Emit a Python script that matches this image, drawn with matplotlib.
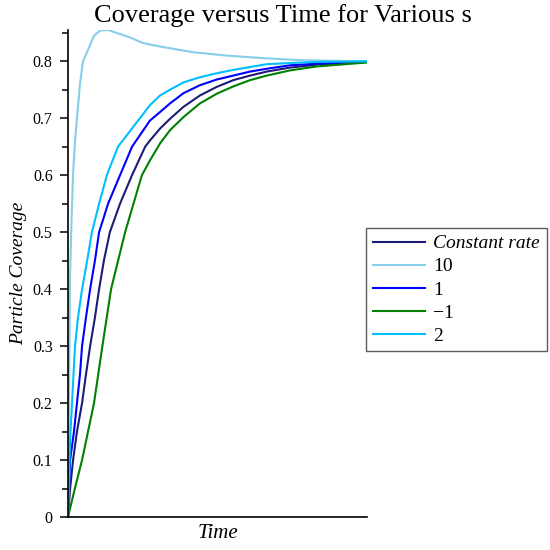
#!/usr/bin/env python3
# coding: utf-8

import numpy as np
import matplotlib.pyplot as plt
from matplotlib.ticker import MultipleLocator

# values (time in arbitrary units, axis spans 0-10)
t_const = [0, 0.07, 0.17, 0.30, 0.47, 0.60, 0.74, 0.90, 1.04, 1.20, 1.40, 1.74, 2.14,
           2.58, 2.74, 3.08, 3.41, 3.86, 4.41, 4.97, 5.53, 6.09, 6.65, 7.42, 8.32, 10.0]
c_const = [0, 0.05, 0.10, 0.15, 0.20, 0.25, 0.30, 0.35, 0.40, 0.45, 0.50, 0.55, 0.60,
           0.65, 0.661, 0.682, 0.699, 0.720, 0.740, 0.755, 0.767, 0.775, 0.782, 0.789,
           0.794, 0.799]

t_s10 = [0, 0.017, 0.033, 0.05, 0.067, 0.117, 0.167, 0.234, 0.30, 0.40, 0.50, 0.67,
         0.87, 1.07, 1.34, 2.07, 2.51, 3.08, 4.18, 5.32, 6.42, 7.76, 10.0]
c_s10 = [0, 0.10, 0.20, 0.30, 0.42, 0.52, 0.60, 0.66, 0.70, 0.76, 0.80, 0.82,
         0.845, 0.854, 0.855, 0.842, 0.832, 0.826, 0.816, 0.810, 0.806, 0.802, 0.80]

t_s1 = [0, 0.03, 0.07, 0.20, 0.30, 0.40, 0.47, 0.60, 0.74, 0.90, 1.04, 1.34, 1.74,
        2.14, 2.74, 3.08, 3.41, 3.86, 4.41, 4.97, 5.53, 6.09, 6.65, 7.42, 8.32, 10.0]
c_s1 = [0, 0.05, 0.10, 0.15, 0.20, 0.25, 0.30, 0.35, 0.40, 0.45, 0.50, 0.55, 0.60,
        0.65, 0.696, 0.711, 0.726, 0.744, 0.758, 0.768, 0.775, 0.782, 0.787, 0.793,
        0.796, 0.799]

t_sm1 = [0, 0.23, 0.47, 0.87, 1.15, 1.44, 1.91, 2.47, 2.74, 3.08, 3.41, 3.86, 4.41,
         4.97, 5.53, 6.09, 6.65, 7.42, 8.32, 10.0]
c_sm1 = [0, 0.05, 0.10, 0.20, 0.30, 0.40, 0.50, 0.60, 0.626, 0.656, 0.679, 0.702,
         0.726, 0.743, 0.756, 0.767, 0.775, 0.784, 0.791, 0.798]

t_s2 = [0, 0.03, 0.05, 0.084, 0.134, 0.184, 0.234, 0.334, 0.47, 0.64, 0.80, 1.04,
        1.30, 1.67, 2.74, 3.08, 3.41, 3.86, 4.41, 4.97, 5.53, 6.09, 6.65, 7.42, 8.32, 10.0]
c_s2 = [0, 0.05, 0.10, 0.15, 0.20, 0.25, 0.30, 0.35, 0.40, 0.45, 0.50, 0.55, 0.60,
        0.65, 0.723, 0.740, 0.750, 0.763, 0.772, 0.779, 0.785, 0.790, 0.795, 0.797,
        0.799, 0.800]

series = [
    ("Constant rate", t_const, c_const, "#1c1c78"),
    ("10", t_s10, c_s10, "#87ceeb"),
    ("1", t_s1, c_s1, "#0000ff"),
    ("\u22121", t_sm1, c_sm1, "#008000"),
    ("2", t_s2, c_s2, "#00bfff"),
]

plt.rcParams['font.family'] = ['Liberation Serif', 'DejaVu Serif']

fig = plt.figure(figsize=(5.5, 5.5), dpi=100)
ax = fig.add_axes([68 / 550, 1 - 517 / 550, (367 - 68) / 550, (517 - 30) / 550])

lines = []
for label, t, c, color in series:
    ln, = ax.plot(t, c, "-", color=color, lw=1.5, label=label)
    lines.append(ln)

ax.set_xlim(0, 10)
ax.set_ylim(0, 0.855)
ax.spines['right'].set_visible(False)
ax.spines['top'].set_visible(False)
ax.spines['left'].set_linewidth(1.2)
ax.spines['bottom'].set_linewidth(1.2)
ax.set_xticks([])
ax.yaxis.set_minor_locator(MultipleLocator(0.05))
ax.set_yticks([0, 0.1, 0.2, 0.3, 0.4, 0.5, 0.6, 0.7, 0.8])
ax.set_yticklabels(["0", "0.1", "0.2", "0.3", "0.4", "0.5", "0.6", "0.7", "0.8"])
ax.tick_params(axis='y', which='major', length=6, width=1.1, labelsize=11.5, pad=5)
ax.tick_params(axis='y', which='minor', length=4, width=1.1)

fig.suptitle("Coverage versus Time for Various s", fontsize=19, x=283 / 550, y=0.993, va='top')
ax.set_xlabel("Time", fontstyle='italic', fontsize=15, labelpad=5)
ax.set_ylabel("Particle Coverage", fontstyle='italic', fontsize=14, labelpad=4)

leg = fig.legend(handles=lines, loc='upper left', bbox_to_anchor=(366 / 550, 1 - 228 / 550),
                 fontsize=14, handlelength=2.7, frameon=True, fancybox=False,
                 borderpad=0.35, labelspacing=0.28, handletextpad=0.4, borderaxespad=0)
leg.get_frame().set_edgecolor("#333333")
leg.get_frame().set_linewidth(1.0)
leg.get_texts()[0].set_fontstyle('italic')

fig.savefig("out.png")
